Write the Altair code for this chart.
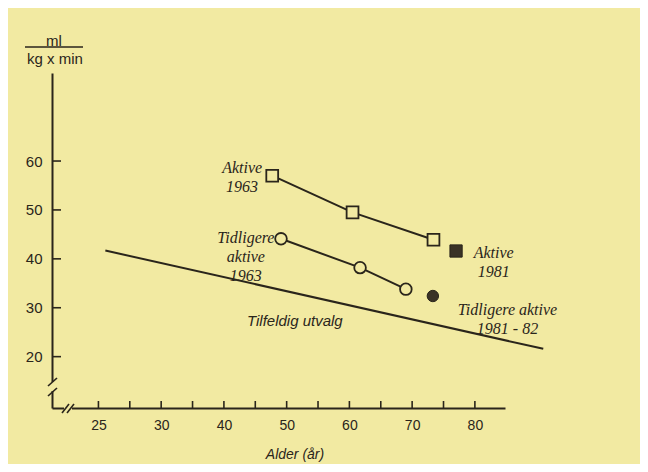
import altair as alt
import pandas as pd

# ---- data ----
age_aktive_1963 = [47.7, 60.5, 73.4]
vo2_aktive_1963 = [57.0, 49.5, 43.9]

age_tidl_1963 = [49.1, 61.7, 69.0]
vo2_tidl_1963 = [44.1, 38.2, 33.8]

age_tilfeldig = [21.1, 90.9]
vo2_tilfeldig = [41.7, 21.6]

age_aktive_1981 = [77.0]
vo2_aktive_1981 = [41.6]

age_tidl_1981 = [73.3]
vo2_tidl_1981 = [32.4]

x_tick_values = [20, 25, 30, 35, 40, 45, 50, 55, 60, 65, 70, 75, 80]
x_label_values = [20, 30, 40, 50, 60, 70, 80]
y_tick_values = [20, 30, 40, 50, 60]

ann_text = [["Aktive", "1963"], ["Tidligere", "aktive", "1963"], ["Aktive", "1981"],
            ["Tidligere aktive", "1981 - 82"]]
ann_x = [42.9, 43.5, 83.0, 85.2]
ann_y = [58.6, 44.3, 41.2, 29.5]

BG = "#f2eaa2"
INK = "#2a251b"
W, H = 453, 335

xs = alt.Scale(domain=[12.6, 84.8], nice=False, zero=False)
ys = alt.Scale(domain=[9.5, 78], nice=False, zero=False)

def df(a, v):
    return pd.DataFrame({"age": a, "vo2": v})

X = alt.X("age:Q", scale=xs, axis=alt.Axis(
    values=x_label_values, ticks=False, grid=False, title=None,
    labelExpr="datum.value == 20 ? '25' : datum.label",
    labelFont="Liberation Sans", labelFontSize=14, labelColor=INK, labelPadding=10,
    domainColor=INK, domainWidth=2))
Y = alt.Y("vo2:Q", scale=ys, axis=alt.Axis(
    values=y_tick_values, ticks=False, grid=False, title=None,
    labelFont="Liberation Sans", labelFontSize=15, labelColor=INK, labelPadding=10,
    domainColor=INK, domainWidth=2))

base_axes = alt.Chart(df([20], [20])).mark_point(opacity=0).encode(x=X, y=Y)

line_kw = dict(color=INK, strokeWidth=2)
l1 = alt.Chart(df(age_aktive_1963, vo2_aktive_1963)).mark_line(**line_kw).encode(x="age:Q", y="vo2:Q")
l2 = alt.Chart(df(age_tidl_1963, vo2_tidl_1963)).mark_line(**line_kw).encode(x="age:Q", y="vo2:Q")
l3 = alt.Chart(df(age_tilfeldig, vo2_tilfeldig)).mark_line(**line_kw).encode(x="age:Q", y="vo2:Q")

p1 = alt.Chart(df(age_aktive_1963, vo2_aktive_1963)).mark_point(
    shape="square", size=140, filled=True, fill=BG, stroke=INK, strokeWidth=1.8, opacity=1
).encode(x="age:Q", y="vo2:Q")
p2 = alt.Chart(df(age_tidl_1963, vo2_tidl_1963)).mark_point(
    shape="circle", size=135, filled=True, fill=BG, stroke=INK, strokeWidth=1.8, opacity=1
).encode(x="age:Q", y="vo2:Q")
p3 = alt.Chart(df(age_aktive_1981, vo2_aktive_1981)).mark_point(
    shape="square", size=150, filled=True, fill="#3a3226", stroke=INK, strokeWidth=1, opacity=1
).encode(x="age:Q", y="vo2:Q")
p4 = alt.Chart(df(age_tidl_1981, vo2_tidl_1981)).mark_point(
    shape="circle", size=130, filled=True, fill="#3a3226", stroke=INK, strokeWidth=1, opacity=1
).encode(x="age:Q", y="vo2:Q")

# inward ticks
xt = alt.Chart(pd.DataFrame({"age": x_tick_values})).mark_rule(color=INK, strokeWidth=1.6).encode(
    x="age:Q", y=alt.value(H - 7), y2=alt.value(H))
yt = alt.Chart(pd.DataFrame({"vo2": y_tick_values})).mark_rule(color=INK, strokeWidth=1.6).encode(
    y="vo2:Q", x=alt.value(0), x2=alt.value(9))

# axis breaks
brk = pd.DataFrame({
    "x1": [0, -4, -4, 12, 10, 15],
    "y1": [309, 313, 323, 335, 340, 340],
    "x2": [0, 5, 5, 20, 17, 22],
    "y2": [318, 305, 315, 335, 331, 331],
    "c": [BG, INK, INK, BG, INK, INK],
    "w": [4, 1.6, 1.6, 4, 1.6, 1.6],
})
breaks = alt.Chart(brk).mark_rule().encode(
    x=alt.X("x1:Q", scale=None), y=alt.Y("y1:Q", scale=None),
    x2="x2:Q", y2="y2:Q",
    color=alt.Color("c:N", scale=None),
    strokeWidth=alt.StrokeWidth("w:Q", scale=None))

# annotations
ann = pd.DataFrame({"t": ann_text, "age": ann_x, "vo2": ann_y})
annot = alt.Chart(ann).mark_text(
    font="Liberation Serif", fontStyle="italic", fontSize=16, color=INK,
    align="center", baseline="middle", lineHeight=19
).encode(x="age:Q", y="vo2:Q", text="t")

tilf = alt.Chart(pd.DataFrame({"t": ["Tilfeldig utvalg"], "age": [51.3], "vo2": [27.3]})).mark_text(
    font="Liberation Sans", fontStyle="italic", fontSize=15, color=INK,
    align="center", baseline="middle"
).encode(x="age:Q", y="vo2:Q", text="t")

# axis titles
xtitle = alt.Chart(pd.DataFrame({"t": ["Alder (år)"]})).mark_text(
    font="Liberation Sans", fontStyle="italic", fontSize=14, color=INK,
    align="center", baseline="middle"
).encode(text="t", x=alt.value(243), y=alt.value(382))

ytitle = alt.Chart(pd.DataFrame({"t": ["ml", "kg x min"], "px": [2, 3], "py": [-32, -14]})).mark_text(
    font="Liberation Sans", fontSize=15, color=INK, align="center", baseline="middle"
).encode(text="t", x=alt.X("px:Q", scale=None), y=alt.Y("py:Q", scale=None))
ybar = alt.Chart(pd.DataFrame({"a": [0]})).mark_rule(color=INK, strokeWidth=1.6).encode(
    x=alt.value(-27), x2=alt.value(31), y=alt.value(-26))

chart = alt.layer(
    base_axes, l3, l1, l2, p1, p2, p3, p4, xt, yt, breaks, annot, tilf, xtitle, ytitle, ybar
).properties(
    width=W, height=H,
    padding={"left": 44, "top": 65, "right": 135, "bottom": 56},
    autosize=alt.AutoSizeParams(type="none"),
    background=BG,
).configure_view(stroke=None)

chart.save("out.html", embed_options={"renderer": "svg", "actions": False})
